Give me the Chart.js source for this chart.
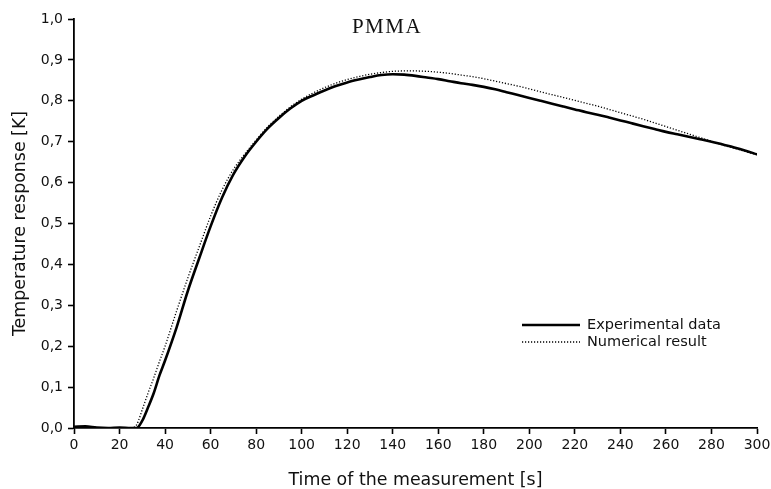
<!DOCTYPE html>
<html lang="en">
<head>
    <meta charset="UTF-8">
    <title>PMMA temperature response</title>
    <script src="https://cdn.jsdelivr.net/npm/chart.js"></script>
    <style>
        html, body { margin: 0; padding: 0; background: #fff; }
        #wrap { width: 771px; height: 489px; }
    </style>
</head>
<body>
    <div id="wrap"><canvas id="pmmaChart" width="771" height="489"></canvas></div>
    <script>
        // time of the measurement [s]
        const times = [
            0, 5, 10, 15, 20, 25, 27.5, 30, 32.5, 35, 37.5, 40, 45, 50, 55, 60, 65, 70, 75, 80, 85, 90, 95,
            100, 105, 110, 115, 120, 125, 130, 135, 140, 145, 150, 155, 160, 165, 170, 175,
            180, 185, 190, 195, 200, 205, 210, 215, 220, 225, 230, 235, 240, 245, 250, 255,
            260, 265, 270, 275, 280, 285, 290, 295, 300
        ];

        // temperature response [K]
        const experimental = [
            0.003, 0.004, 0.001, 0.000, 0.001, 0.000, 0.000, 0.018, 0.050, 0.085, 0.128, 0.165,
            0.245, 0.335, 0.415, 0.493, 0.563, 0.620, 0.664, 0.700, 0.732, 0.758, 0.781,
            0.800, 0.813, 0.825, 0.836, 0.845, 0.852, 0.858, 0.863, 0.865, 0.864,
            0.861, 0.857, 0.853, 0.848, 0.843, 0.839, 0.834, 0.828, 0.821, 0.814,
            0.807, 0.800, 0.793, 0.786, 0.779, 0.772, 0.766, 0.759, 0.752, 0.745,
            0.738, 0.731, 0.724, 0.718, 0.712, 0.706, 0.700, 0.693, 0.686, 0.678,
            0.669
        ];

        const numerical = [
            0.000, 0.000, 0.000, 0.000, 0.000, 0.000, 0.008, 0.045, 0.085, 0.122, 0.162, 0.200,
            0.285, 0.367, 0.443, 0.518, 0.582, 0.632, 0.670, 0.704, 0.736, 0.762, 0.785,
            0.804, 0.819, 0.832, 0.843, 0.852, 0.859, 0.865, 0.869, 0.872, 0.873,
            0.873, 0.872, 0.870, 0.867, 0.863, 0.859, 0.854, 0.848, 0.842, 0.836,
            0.829, 0.822, 0.815, 0.808, 0.801, 0.794, 0.787, 0.779, 0.771, 0.763,
            0.755, 0.746, 0.737, 0.728, 0.719, 0.710, 0.701, 0.692, 0.684, 0.676,
            0.668
        ];

        const seriesLabels = ['Experimental data', 'Numerical result'];
        const chartTitle = 'PMMA';

        const textColor = '#111';
        const font = 'DejaVu Sans';

        function toPoints(values) {
            return times.map((t, i) => ({ x: t, y: values[i] }));
        }

        // title and legend sit inside the plot area, so draw them by hand
        const overlayPlugin = {
            id: 'overlay',
            afterDraw(chart) {
                const ctx = chart.ctx;
                ctx.save();
                ctx.fillStyle = textColor;
                ctx.font = '21px "Liberation Serif", "Times New Roman", serif';
                ctx.textAlign = 'center';
                ctx.textBaseline = 'alphabetic';
                if ('letterSpacing' in ctx) ctx.letterSpacing = '1.5px';
                ctx.fillText(chartTitle, 387, 33);
                if ('letterSpacing' in ctx) ctx.letterSpacing = '0px';

                ctx.font = '14.5px "' + font + '"';
                ctx.textAlign = 'left';
                ctx.textBaseline = 'middle';
                chart.data.datasets.forEach((ds, i) => {
                    const y = 325 + i * 17;
                    ctx.beginPath();
                    ctx.strokeStyle = ds.borderColor;
                    ctx.lineWidth = ds.borderWidth;
                    ctx.setLineDash(ds.borderDash || []);
                    ctx.moveTo(522, y);
                    ctx.lineTo(580, y);
                    ctx.stroke();
                    ctx.setLineDash([]);
                    ctx.fillText(ds.label, 587, y);
                });
                ctx.restore();
            }
        };

        const ctx = document.getElementById('pmmaChart').getContext('2d');
        new Chart(ctx, {
            type: 'line',
            data: {
                datasets: [
                    {
                        label: seriesLabels[0],
                        data: toPoints(experimental),
                        borderColor: '#000',
                        borderWidth: 2.6,
                        pointRadius: 0,
                        cubicInterpolationMode: 'monotone'
                    },
                    {
                        label: seriesLabels[1],
                        data: toPoints(numerical),
                        borderColor: '#000',
                        borderWidth: 1.3,
                        borderDash: [1.2, 1.8],
                        pointRadius: 0,
                        cubicInterpolationMode: 'monotone'
                    }
                ]
            },
            options: {
                responsive: false,
                animation: false,
                layout: { padding: { top: 19, right: 14, bottom: 0, left: 0 } },
                plugins: {
                    legend: { display: false },
                    title: { display: false },
                    tooltip: { enabled: false }
                },
                scales: {
                    x: {
                        type: 'linear',
                        min: 0,
                        max: 300,
                        ticks: {
                            stepSize: 20,
                            color: textColor,
                            font: { family: font, size: 14 },
                            padding: 3,
                            maxRotation: 0
                        },
                        grid: {
                            drawOnChartArea: false,
                            drawTicks: true,
                            tickLength: 6,
                            tickWidth: 1.6,
                            color: '#000'
                        },
                        border: { display: true, color: '#000', width: 1.8 },
                        title: {
                            display: true,
                            text: 'Time of the measurement [s]',
                            color: textColor,
                            font: { family: font, size: 17.4, lineHeight: 1 },
                            padding: { top: 0, bottom: 0 }
                        },
                        afterFit(scale) {
                            scale.height = 61;
                            scale.paddingLeft = 0;
                            scale.paddingRight = 0;
                        }
                    },
                    y: {
                        min: 0,
                        max: 1,
                        ticks: {
                            stepSize: 0.1,
                            color: textColor,
                            font: { family: font, size: 14 },
                            padding: 5,
                            callback: v => v.toFixed(1).replace('.', ',')
                        },
                        grid: {
                            drawOnChartArea: false,
                            drawTicks: true,
                            tickLength: 6,
                            tickWidth: 1.6,
                            color: '#000'
                        },
                        border: { display: true, color: '#000', width: 1.8 },
                        title: {
                            display: true,
                            text: 'Temperature response [K]',
                            color: textColor,
                            font: { family: font, size: 17.4, lineHeight: 1 },
                            padding: { top: 12, bottom: 0 }
                        },
                        afterFit(scale) {
                            scale.width = 74;
                            scale.paddingTop = 0;
                            scale.paddingBottom = 0;
                        }
                    }
                }
            },
            plugins: [overlayPlugin]
        });
    </script>
</body>
</html>
